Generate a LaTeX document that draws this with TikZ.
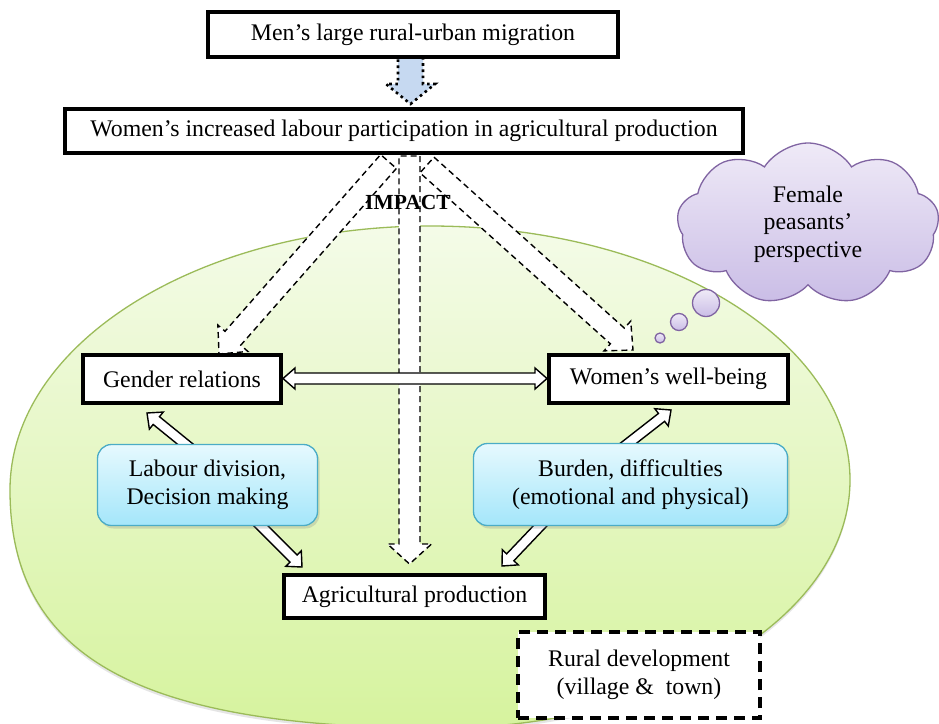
\documentclass[tikz,border=0pt]{standalone}
\usepackage{fontspec}
\setmainfont{Liberation Serif}
\usetikzlibrary{calc,shapes.symbols,shadows}

\definecolor{fieldtop}{HTML}{F4FBE8}
\definecolor{fieldbot}{HTML}{D6F39E}
\definecolor{fieldedge}{HTML}{9BBB59}
\definecolor{softtop}{HTML}{E6F9FE}
\definecolor{softbot}{HTML}{A4E6FA}
\definecolor{softedge}{HTML}{4BACC6}
\definecolor{cloudtop}{HTML}{EFEAF7}
\definecolor{cloudbot}{HTML}{CABDE6}
\definecolor{cloudedge}{HTML}{8064A2}
\definecolor{migblue}{HTML}{C6D9F1}

% single fat arrow: [style]{tail}{tip}{half shaft}{half head}{head length}
\newcommand{\fatarrow}[6][]{%
  \coordinate (fa-h) at ($(#3)!#6!(#2)$);
  \path[#1] ($(#2)!#4!90:(#3)$) -- ($(fa-h)!#4!90:(#3)$) -- ($(fa-h)!#5!90:(#3)$)
    -- (#3) -- ($(fa-h)!#5!-90:(#3)$) -- ($(fa-h)!#4!-90:(#3)$)
    -- ($(#2)!#4!-90:(#3)$) -- cycle;}

% fat arrow with a head at both ends: [style]{end A}{end B}{half shaft}{half head}{head length}
\newcommand{\twinarrow}[6][]{%
  \coordinate (ta) at ($(#2)!#6!(#3)$);
  \coordinate (tb) at ($(#3)!#6!(#2)$);
  \path[#1] (#2) -- ($(ta)!#5!90:(#3)$) -- ($(ta)!#4!90:(#3)$)
    -- ($(tb)!#4!-90:(#2)$) -- ($(tb)!#5!-90:(#2)$) -- (#3)
    -- ($(tb)!#5!90:(#2)$) -- ($(tb)!#4!90:(#2)$)
    -- ($(ta)!#4!-90:(#3)$) -- ($(ta)!#5!-90:(#3)$) -- cycle;}

\begin{document}
\begin{tikzpicture}[x=1pt,y=-1pt,
  every node/.style={font=\fontsize{23.8}{27.5}\selectfont, align=center, inner sep=0pt},
  plainbox/.style={draw, line width=4pt, fill=white},
  ruralbox/.style={draw, line width=4pt, fill=white, dash pattern=on 11pt off 7pt},
  softbox/.style={draw=softedge, line width=1.3pt, rounded corners=14pt,
    top color=softtop, bottom color=softbot,
    drop shadow={opacity=0.25, shadow xshift=2pt, shadow yshift=-3pt}},
  impactarrow/.style={draw, fill=white, line width=1.4pt, dash pattern=on 6pt off 4pt},
  linkarrow/.style={draw, fill=white, line width=1.4pt},
  migrarrow/.style={draw, fill=migblue, line width=2.6pt, dash pattern=on 2.6pt off 3.6pt},
  thought/.style={draw=cloudedge, line width=1.3pt, top color=cloudtop, bottom color=cloudbot}]

\useasboundingbox (0,0) rectangle (939,723);
\fill[white] (0,0) rectangle (939,723);

% the green field of rural life
\coordinate (fl) at (10,490);
\coordinate (ft) at (430,226);
\coordinate (fr) at (850,480);
\coordinate (fb) at (440,728);
\path[draw=fieldedge, line width=1.3pt, top color=fieldtop, bottom color=fieldbot,
  drop shadow={opacity=0.2, shadow xshift=0pt, shadow yshift=-3pt}]
  (fl) .. controls (10,344) and (198,226) .. (ft)
       .. controls (662,226) and (850,340) .. (fr)
       .. controls (850,617) and (666,728) .. (fb)
       .. controls (139,728) and (10,657) .. (fl) -- cycle;

% thought cloud
\node[thought, cloud, cloud puffs=9, cloud puff arc=115, cloud ignores aspect,
  minimum width=262pt, minimum height=162pt] (cloud) at (808,224)
  {Female\\peasants’\\perspective};
\node[thought, circle, minimum size=27pt] (bub1) at (706,303) {};
\node[thought, circle, minimum size=17pt] (bub2) at (679,322) {};
\node[thought, circle, minimum size=10pt] (bub3) at (660,338) {};

% arrow end points
\coordinate (migtail) at (410.5,57);
\coordinate (migtip) at (410.5,104);
\coordinate (imptail) at (409.5,156);
\coordinate (imptip) at (409.5,564);
\coordinate (lefttail) at (388.5,161.5);
\coordinate (lefttip) at (219,354);
\coordinate (righttail) at (427,165);
\coordinate (righttip) at (633,350);
\coordinate (labtail1) at (195,452);
\coordinate (labtip1) at (147,413);
\coordinate (labtail2) at (245,510);
\coordinate (labtip2) at (302,567);
\coordinate (burtail1) at (612,456);
\coordinate (burtip1) at (671,410);
\coordinate (burtail2) at (560,505);
\coordinate (burtip2) at (502,566);
\coordinate (gendend) at (283,378.5);
\coordinate (wellend) at (547,378.5);

% impact arrows
\fatarrow[impactarrow]{imptail}{imptip}{10.5pt}{22pt}{20pt}
\fatarrow[impactarrow]{lefttail}{lefttip}{10.5pt}{20pt}{21pt}
\fatarrow[impactarrow]{righttail}{righttip}{10.5pt}{20pt}{21pt}

% links through the explaining factors
\fatarrow[linkarrow]{labtail1}{labtip1}{5pt}{11pt}{12pt}
\fatarrow[linkarrow]{labtail2}{labtip2}{5pt}{11pt}{12pt}
\fatarrow[linkarrow]{burtail1}{burtip1}{5pt}{11pt}{12pt}
\fatarrow[linkarrow]{burtail2}{burtip2}{5pt}{11pt}{12pt}

% migration arrow
\fatarrow[migrarrow]{migtail}{migtip}{12.5pt}{24.5pt}{20pt}

% boxes
\node[plainbox, minimum width=410pt, minimum height=45pt] (mig) at (413,34.5)
  {Men’s large rural-urban migration};
\node[plainbox, minimum width=678pt, minimum height=44pt] (labour) at (404,131)
  {Women’s increased labour participation in agricultural production};
\node[plainbox, minimum width=198pt, minimum height=48pt] (gender) at (182,379)
  {Gender relations};
\node[plainbox, minimum width=239pt, minimum height=48pt] (well) at (668.5,379)
  {Women’s well-being};
\node[plainbox, minimum width=261pt, minimum height=43pt] (agri) at (414.5,596.5)
  {Agricultural production};
\node[ruralbox, minimum width=242pt, minimum height=86pt] (rural) at (639,675)
  {Rural development\\(village \&~ town)};

\node[font=\bfseries\fontsize{21.5}{24}\selectfont] (impact) at (408,202) {IMPACT};

\twinarrow[linkarrow]{gendend}{wellend}{5.5pt}{10.5pt}{12pt}

\node[softbox, minimum width=220pt, minimum height=81pt] (division) at (207.5,485)
  {Labour division,\\Decision making};
\node[softbox, minimum width=314pt, minimum height=82pt] (burden) at (630.5,484.5)
  {Burden, difficulties\\(emotional and physical)};

\end{tikzpicture}
\end{document}
